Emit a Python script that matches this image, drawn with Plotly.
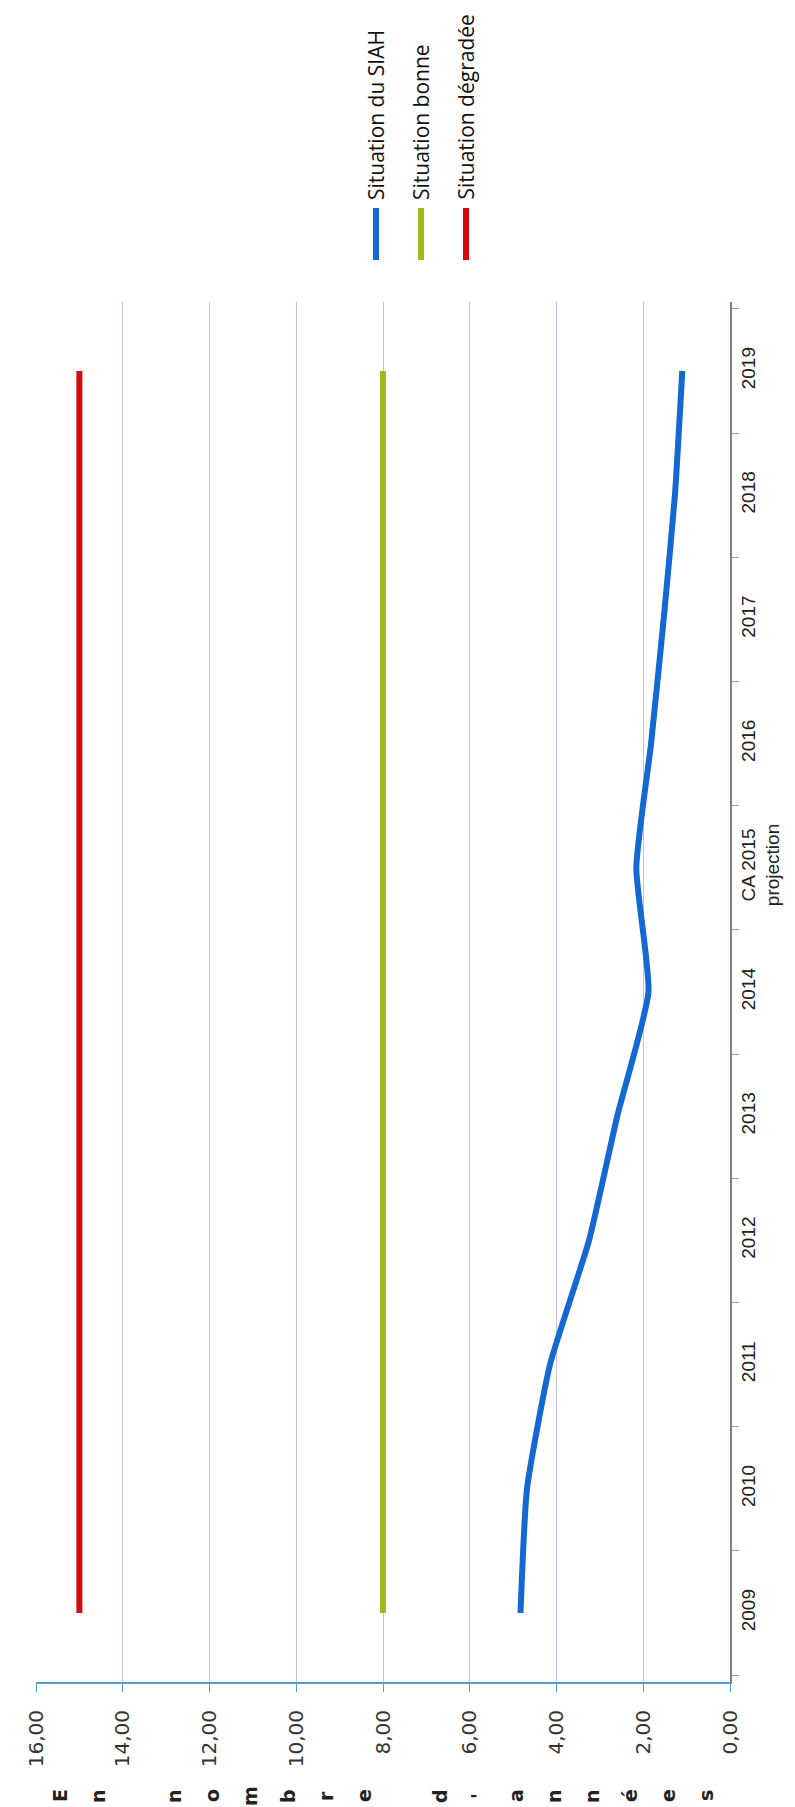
import plotly.graph_objects as go

# categories (years), read bottom to top on the rotated chart
years = ["2009", "2010", "2011", "2012", "2013", "2014", "CA 2015<br>projection",
         "2016", "2017", "2018", "2019"]

# number of years per scenario
siah = [4.83, 4.68, 4.15, 3.25, 2.60, 1.88, 2.16, 1.82, 1.53, 1.27, 1.10]
bonne = [8.0] * 11
degradee = [15.0] * 11

series_names = ["Situation du SIAH", "Situation bonne", "Situation dégradée"]
series_values = [siah, bonne, degradee]
series_colors = ["#1468d2", "#a3b81c", "#d40a0a"]

axis_title = "En nombre d'années"

# plot area in pixels (the chart is turned a quarter turn)
L, R, T, B = 28, 722, 294, 1674


def xpaper(px):
    return (px - L) / (R - L)


def ypaper(py):
    return (B - py) / (B - T)


fig = go.Figure()

for name, vals, col in zip(series_names, series_values, series_colors):
    fig.add_trace(go.Scatter(
        x=vals,
        y=years,
        mode='lines',
        name=name,
        line=dict(color=col, width=6, shape='spline', smoothing=0.5),
        showlegend=False
    ))

# legend drawn rotated, like the rest of the picture
shapes = []
annotations = []
for i, (name, col) in enumerate(zip(series_names, series_colors)):
    xp = xpaper(368 + 45 * i)
    shapes.append(dict(type='line', xref='paper', yref='paper',
                       x0=xp, x1=xp, y0=ypaper(200), y1=ypaper(252),
                       line=dict(color=col, width=6)))
    annotations.append(dict(text=name, xref='paper', yref='paper',
                            x=xp, y=ypaper(194), xanchor='center', yanchor='bottom',
                            textangle=-90, showarrow=False,
                            font=dict(family='Open Sans', size=21, color='#111')))

# stacked axis title: one letter per slot
for i, ch in enumerate(axis_title):
    if ch == ' ':
        continue
    annotations.append(dict(text=f'<b>{ch}</b>', xref='paper', yref='paper',
                            x=xpaper(52 + 38 * i), y=ypaper(1788),
                            xanchor='center', yanchor='middle',
                            textangle=-90, showarrow=False,
                            font=dict(family='DejaVu Sans', size=19, color='#222')))

fig.update_layout(
    width=795,
    height=1807,
    margin=dict(l=L, r=795 - R, t=T, b=1807 - B),
    paper_bgcolor='white',
    plot_bgcolor='white',
    separators=', ',
    shapes=shapes,
    annotations=annotations,
    xaxis=dict(
        range=[16, 0],
        dtick=2,
        tick0=0,
        tickformat='.2f',
        tickangle=-90,
        showgrid=True,
        gridcolor='#c4c4e2',
        gridwidth=1,
        zeroline=False,
        showline=True,
        linecolor='#5b9bd5',
        linewidth=2,
        ticks='outside',
        ticklen=8,
        tickcolor='#5b9bd5',
        ticklabelstandoff=10,
        tickfont=dict(family='DejaVu Sans', size=20, color='#333'),
    ),
    yaxis=dict(
        type='category',
        side='right',
        showgrid=False,
        zeroline=False,
        showline=True,
        linecolor='#7c7c98',
        linewidth=2,
        ticks='outside',
        tickson='boundaries',
        ticklen=7,
        tickcolor='#9a9ab0',
        tickangle=-90,
        ticklabelstandoff=0,
        tickfont=dict(family='Liberation Sans', size=19, color='#222'),
    ),
)

fig.write_html("out.html")
